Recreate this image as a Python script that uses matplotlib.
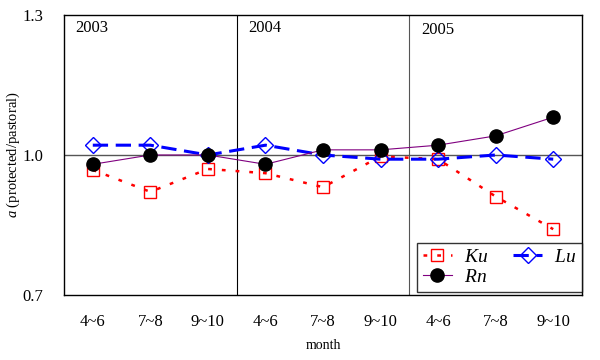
import matplotlib
matplotlib.use("Agg")
import matplotlib.pyplot as plt
import numpy as np

plt.rcParams['font.family'] = ['Liberation Serif', 'DejaVu Serif']
plt.rcParams['mathtext.fontset'] = 'custom'
plt.rcParams['mathtext.it'] = 'Liberation Serif:italic'
plt.rcParams['mathtext.rm'] = 'Liberation Serif'

# datos
meses = ['4~6', '7~8', '9~10', '4~6', '7~8', '9~10', '4~6', '7~8', '9~10']
anios = ['2003', '2004', '2005']
ku = [0.968, 0.921, 0.970, 0.961, 0.931, 0.997, 0.991, 0.911, 0.841]
lu = [1.021, 1.021, 1.000, 1.021, 1.000, 0.991, 0.991, 1.000, 0.991]
rn = [0.980, 1.000, 1.000, 0.980, 1.011, 1.011, 1.021, 1.041, 1.081]

x = np.arange(len(meses))

fig = plt.figure(figsize=(6, 3.6), dpi=100)
ax = fig.add_axes([0.1067, 0.1806, 0.8633, 0.7778])

ax.axhline(1.0, color='#555555', lw=1, zorder=1)
ax.axvline(2.5, color='black', lw=0.8, zorder=1)
ax.axvline(5.5, color='#555555', lw=0.8, zorder=1)

l_ku, = ax.plot(x, ku, color='red', ls=(0, (1.5, 4)), lw=1.8, marker='s', ms=9,
                mfc='none', mec='red', mew=1, label='$Ku$', zorder=3)
l_lu, = ax.plot(x, lu, color='blue', ls=(0, (5, 2.5)), lw=2.2, marker='D', ms=8.5,
                mfc='none', mec='blue', mew=1, label='$Lu$', zorder=3)
l_rn, = ax.plot(x, rn, color='purple', lw=0.8, marker='o', ms=9.5,
                mfc='black', mec='black', label='$Rn$', zorder=4)

ax.set_xlim(-0.5, 8.5)
ax.set_ylim(0.7, 1.3)
ax.set_yticks([0.7, 1.0, 1.3])
ax.set_yticklabels(['0.7', '1.0', '1.3'], fontsize=12)
ax.set_xticks(x)
ax.set_xticklabels(meses, fontsize=12)
ax.tick_params(axis='x', length=0, pad=14)
ax.tick_params(axis='y', length=0, pad=15)

ax.set_xlabel('month', fontsize=10, labelpad=6)
ax.set_ylabel('$a$ (protected/pastoral)', fontsize=10.5)
ax.yaxis.set_label_coords(-0.082, 0.5)

for i, a in enumerate(anios):
    ax.text(-0.3 + 3 * i, 1.29 - (0.005 if i == 2 else 0), a, fontsize=12, va='top')

for s in ax.spines.values():
    s.set_linewidth(1)

# orden para que quede Ku, Lu arriba y Rn abajo
leg = ax.legend([l_ku, l_rn, l_lu], ['$Ku$', '$Rn$', '$Lu$'], ncol=2,
                loc='lower right', bbox_to_anchor=(1.0, 0.012),
                fontsize=14, frameon=True, fancybox=False,
                edgecolor='black', borderaxespad=0, handlelength=1.5,
                columnspacing=1.3, handletextpad=0.6, labelspacing=0.1,
                borderpad=0.3)
leg.get_frame().set_linewidth(1)

plt.savefig('out.png', dpi=100)
